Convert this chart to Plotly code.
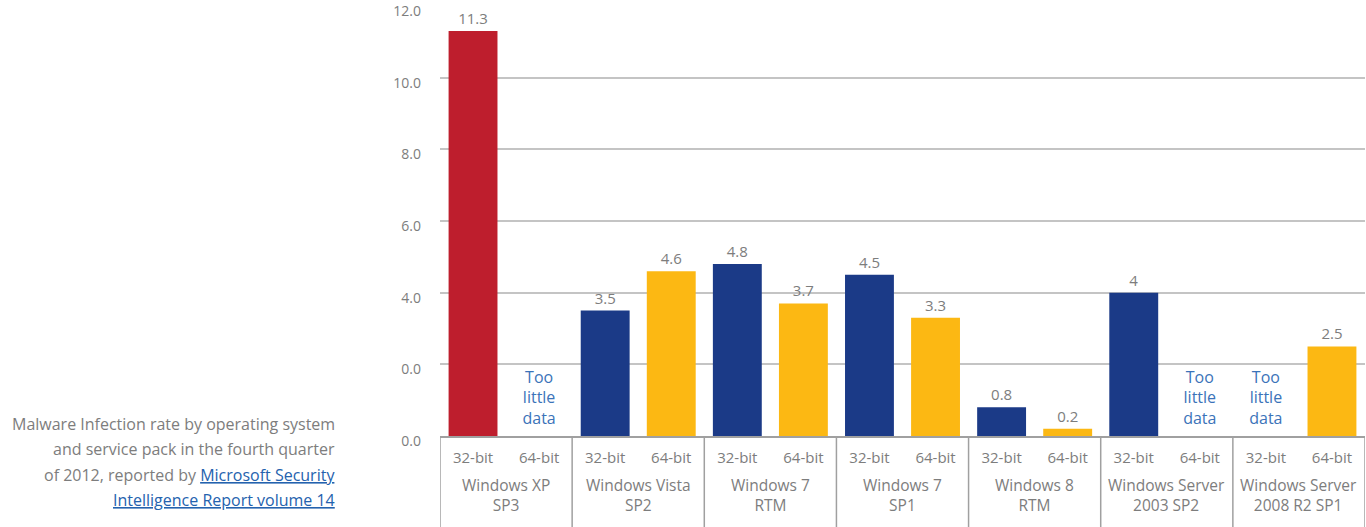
import plotly.graph_objects as go

# ---- data ----
groups = ["Windows XP<br>SP3", "Windows Vista<br>SP2", "Windows 7<br>RTM",
          "Windows 7<br>SP1", "Windows 8<br>RTM", "Windows Server<br>2003 SP2",
          "Windows Server<br>2008 R2 SP1"]
arches = ["32-bit", "64-bit"]
values = [11.3, None, 3.5, 4.6, 4.8, 3.7, 4.5, 3.3, 0.8, 0.2, 4.0, None, None, 2.5]
y_tickvals = [0, 2, 4, 6, 8, 10, 12]
y_ticktext = ["0.0", "0.0", "4.0", "6.0", "8.0", "10.0", "12.0"]
caption_lines = [
    "Malware Infection rate by operating system",
    "and service pack in the fourth quarter",
    "of 2012, reported by <span style=\"color:#2462AE;text-decoration:underline\">Microsoft Security</span>",
    "<span style=\"color:#2462AE;text-decoration:underline\">Intelligence Report volume 14</span>",
]
no_data_text = "Too<br>little<br>data"

# ---- derived ----
n_per = len(arches)
inner = [a for _ in groups for a in arches]
pos = list(range(len(inner)))
RED, BLUE, YELLOW = "#BE1E2D", "#1B3A87", "#FCB813"
colors = []
for i, a in enumerate(inner):
    if i == 0:
        colors.append(RED)
    else:
        colors.append(BLUE if a == "32-bit" else YELLOW)
texts = ["" if v is None else f"{v:g}" for v in values]

nd_pos = [p for p, v in zip(pos, values) if v is None]
ND_LIFT = 0.22  # small lift of the "too little data" note above the baseline

FONT = "Open Sans"
GRAY = "#7D7D7D"
LINE = "#A0A0A0"
H, B, T = 527, 91, 6
plot_h = H - B - T

fig = go.Figure()
fig.add_trace(go.Bar(
    x=pos, y=values,
    marker=dict(color=colors, line=dict(width=0)),
    text=texts, textposition="outside", cliponaxis=False,
    textfont=dict(family=FONT, size=15, color=GRAY),
    showlegend=False, hoverinfo="skip",
))
fig.add_trace(go.Scatter(
    x=nd_pos, y=[ND_LIFT] * len(nd_pos),
    mode="text", text=[no_data_text] * len(nd_pos),
    textposition="top center",
    textfont=dict(family=FONT, size=16, color="#3B73B9"),
    showlegend=False, hoverinfo="skip", cliponaxis=False,
))

# group labels and dividers under the axis
for g, name in enumerate(groups):
    center = g * n_per + (n_per - 1) / 2
    fig.add_annotation(
        xref="x", yref="paper", x=center, y=0, yanchor="middle",
        yshift=-59, showarrow=False, text=name, align="center",
        font=dict(family=FONT, size=15.5, color=GRAY),
    )
for g in range(len(groups) + 1):
    xd = g * n_per - 0.5
    fig.add_shape(
        type="line", xref="x", yref="paper", x0=xd, x1=xd,
        y0=0, y1=-B / plot_h, line=dict(color=LINE, width=1.5),
    )

for i, line in enumerate(caption_lines):
    fig.add_annotation(
        xref="paper", yref="paper", x=-0.111, y=0.0,
        xanchor="right", yanchor="middle", align="right",
        yshift=12 - 25.3 * i, showarrow=False, text=line,
        font=dict(family=FONT, size=16, color=GRAY),
    )

fig.update_layout(
    width=1366, height=H,
    margin=dict(l=440, r=1, t=T, b=B),
    paper_bgcolor="white", plot_bgcolor="white",
    bargap=0.26,
    font=dict(family=FONT, color=GRAY, size=15),
)
fig.update_xaxes(
    range=[-0.5, len(pos) - 0.5], tickvals=pos, ticktext=inner,
    automargin=False,
    showline=True, linecolor=LINE, linewidth=1.5,
    ticks="", showgrid=False, zeroline=False, ticklabelstandoff=7,
    tickfont=dict(family=FONT, size=15, color=GRAY),
)
fig.update_yaxes(
    range=[0, 12], tickvals=y_tickvals, ticktext=y_ticktext,
    automargin=False, ticklabeloverflow="allow",
    showgrid=True, gridcolor="#C4C4C4", gridwidth=1.5,
    zeroline=False, showline=False, ticks="",
    ticklabelstandoff=18, ticklabelshift=5,
    tickfont=dict(family=FONT, size=14, color=GRAY),
)

fig.write_html("out.html", config={"displayModeBar": False},
               post_script="document.body.style.margin='0';")
